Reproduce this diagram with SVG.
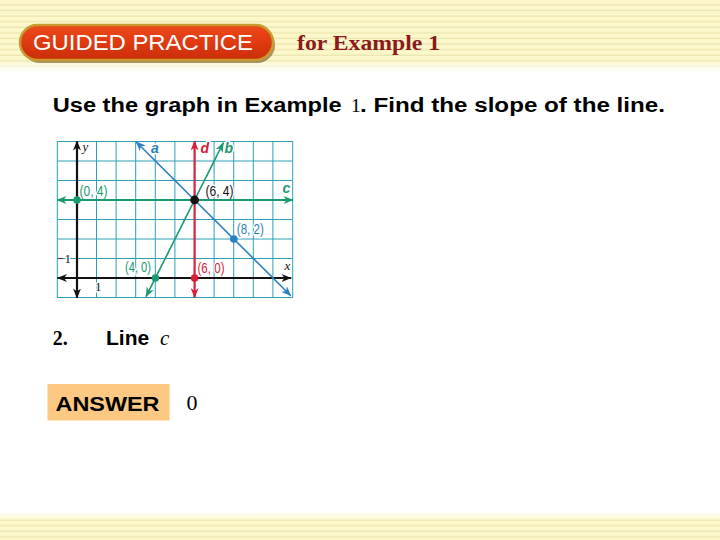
<svg xmlns="http://www.w3.org/2000/svg" width="720" height="540" viewBox="0 0 720 540">
  <defs>
    <pattern id="stripes" x="0" y="0" width="720" height="5.6" patternUnits="userSpaceOnUse">
      <rect width="720" height="5.6" fill="#fcf8cc"/>
      <rect y="4.2" width="720" height="1.4" fill="#ece6b0"/>
    </pattern>
    <linearGradient id="headFade" x1="0" y1="0" x2="0" y2="1">
      <stop offset="0" stop-color="#ffffff" stop-opacity="0"/>
      <stop offset="1" stop-color="#ffffff" stop-opacity="1"/>
    </linearGradient>
    <linearGradient id="footFade" x1="0" y1="0" x2="0" y2="1">
      <stop offset="0" stop-color="#ffffff" stop-opacity="1"/>
      <stop offset="1" stop-color="#ffffff" stop-opacity="0"/>
    </linearGradient>
    <linearGradient id="pillFill" x1="0" y1="0" x2="0" y2="1">
      <stop offset="0" stop-color="#ec4a1c"/>
      <stop offset="0.5" stop-color="#e03a10"/>
      <stop offset="1" stop-color="#c82e0a"/>
    </linearGradient>
    <marker id="arBlack" viewBox="0 0 10 8" refX="9.5" refY="4" markerWidth="10" markerHeight="8" markerUnits="userSpaceOnUse" orient="auto-start-reverse">
      <path d="M0,0 L10,4 L0,8 L3,4 z" fill="#111"/>
    </marker>
    <marker id="arGreen" viewBox="0 0 10 8" refX="9.5" refY="4" markerWidth="10" markerHeight="8" markerUnits="userSpaceOnUse" orient="auto-start-reverse">
      <path d="M0,0 L10,4 L0,8 L3,4 z" fill="#1a9a70"/>
    </marker>
    <marker id="arRed" viewBox="0 0 10 8" refX="9.5" refY="4" markerWidth="10" markerHeight="8" markerUnits="userSpaceOnUse" orient="auto-start-reverse">
      <path d="M0,0 L10,4 L0,8 L3,4 z" fill="#d62038"/>
    </marker>
    <marker id="arBlue" viewBox="0 0 10 8" refX="9.5" refY="4" markerWidth="10" markerHeight="8" markerUnits="userSpaceOnUse" orient="auto-start-reverse">
      <path d="M0,0 L10,4 L0,8 L3,4 z" fill="#2a80c0"/>
    </marker>
  </defs>
  <style>
    .grid { stroke: #2ba0b8; stroke-width: 1; fill: none; }
    .lbl { font-family: "Liberation Sans", Arial, sans-serif; font-size: 15px; stroke: #ffffff; stroke-width: 3px; paint-order: stroke; stroke-linejoin: round; }
    .ln { font-family: "Liberation Sans", Arial, sans-serif; font-size: 14px; font-weight: bold; font-style: italic; stroke: #ffffff; stroke-width: 3px; paint-order: stroke; stroke-linejoin: round; }
    .ser { font-family: "Liberation Serif", "Times New Roman", serif; }
    .sans { font-family: "Liberation Sans", Arial, sans-serif; }
    .halo { stroke: #ffffff; stroke-width: 3px; paint-order: stroke; stroke-linejoin: round; }
  </style>

  <rect width="720" height="540" fill="#ffffff"/>

  <!-- header band -->
  <g id="header">
    <rect x="0" y="0" width="720" height="72" fill="url(#stripes)"/>
    <rect x="0" y="60" width="720" height="12" fill="url(#headFade)"/>
  </g>

  <!-- footer band -->
  <g id="footer">
    <rect x="0" y="512" width="720" height="28" fill="url(#stripes)"/>
    <rect x="0" y="512" width="720" height="8" fill="url(#footFade)"/>
  </g>

  <!-- pill -->
  <g id="guided-practice">
    <rect x="22" y="27" width="253" height="36" rx="18" fill="#6a5220" opacity="0.6"/>
    <rect x="20" y="25" width="253" height="35" rx="17.5" fill="url(#pillFill)" stroke="#c99a2e" stroke-width="2.5"/>
    <text x="33" y="50" class="sans" font-size="22.5" fill="#ffffff" textLength="220" lengthAdjust="spacingAndGlyphs">GUIDED PRACTICE</text>
  </g>

  <g id="subtitle">
    <text x="297" y="50" class="ser" font-size="22" font-weight="bold" fill="#8b1a1a" textLength="143" lengthAdjust="spacingAndGlyphs">for Example 1</text>
  </g>

  <g id="question">
    <text y="112" class="sans" font-size="19.5" font-weight="bold" fill="#000"><tspan x="52.7" textLength="289" lengthAdjust="spacingAndGlyphs">Use the graph in Example</tspan><tspan x="351" class="ser" font-weight="normal">1</tspan><tspan x="360" textLength="305" lengthAdjust="spacingAndGlyphs">. Find the slope of the line.</tspan></text>
  </g>

  <!-- graph -->
  <g id="graph">
    <g id="grid">
      <path class="grid" d="M76.9,141.5V297.5 M96.5,141.5V297.5 M116.1,141.5V297.5 M135.7,141.5V297.5 M155.3,141.5V297.5 M174.9,141.5V297.5 M194.5,141.5V297.5 M214.1,141.5V297.5 M233.7,141.5V297.5 M253.3,141.5V297.5 M272.9,141.5V297.5"/>
      <path class="grid" d="M57.3,161H292.7 M57.3,180.5H292.7 M57.3,200H292.7 M57.3,219.5H292.7 M57.3,239H292.7 M57.3,258.5H292.7 M57.3,278H292.7"/>
      <rect class="grid" x="57.3" y="141.5" width="235.4" height="156" stroke-width="1.6"/>
    </g>
    <g id="labels">
      <text x="79.5" y="196" class="lbl" fill="#1a9a70" textLength="28" lengthAdjust="spacingAndGlyphs">(0, 4)</text>
      <text x="205.5" y="196" class="lbl" fill="#111" textLength="28" lengthAdjust="spacingAndGlyphs">(6, 4)</text>
      <text x="236.8" y="233.5" class="lbl" fill="#2a80c0" textLength="27" lengthAdjust="spacingAndGlyphs">(8, 2)</text>
      <text x="125" y="272" class="lbl" fill="#1a9a70" textLength="26" lengthAdjust="spacingAndGlyphs">(4, 0)</text>
      <text x="197.5" y="273" class="lbl" fill="#d62038" textLength="27" lengthAdjust="spacingAndGlyphs">(6, 0)</text>
      <text x="151" y="152.5" class="ln" fill="#2a80c0">a</text>
      <text x="200.5" y="152.5" class="ln" fill="#d62038">d</text>
      <text x="224.5" y="152.5" class="ln" fill="#1a9a70">b</text>
      <text x="282.5" y="193" class="ln" fill="#1a9a70">c</text>
      <text x="82.5" y="151" class="ser halo" font-size="13" font-style="italic" fill="#111">y</text>
      <text x="284.5" y="269.5" class="ser halo" font-size="13" font-style="italic" fill="#111">x</text>
      <text x="64.5" y="262.5" class="ser halo" font-size="13" fill="#111">1</text>
      <text x="95" y="291" class="ser halo" font-size="13" fill="#111">1</text>
    </g>
    <g id="connectors">
      <line x1="57.5" y1="278" x2="291" y2="278" stroke="#111" stroke-width="2.2" marker-start="url(#arBlack)" marker-end="url(#arBlack)"/>
      <line x1="77" y1="298" x2="77" y2="141" stroke="#111" stroke-width="2.2" marker-start="url(#arBlack)" marker-end="url(#arBlack)"/>
      <line x1="57" y1="200" x2="293" y2="200" stroke="#1a9a70" stroke-width="2.2" marker-start="url(#arGreen)" marker-end="url(#arGreen)"/>
      <line x1="194.6" y1="297.5" x2="194.6" y2="141" stroke="#d62038" stroke-width="2.2" marker-start="url(#arRed)" marker-end="url(#arRed)"/>
      <line x1="146" y1="296.7" x2="223.4" y2="142.7" stroke="#1a9a70" stroke-width="1.6" marker-start="url(#arGreen)" marker-end="url(#arGreen)"/>
      <line x1="136" y1="141.7" x2="290.8" y2="295.7" stroke="#2a80c0" stroke-width="1.6" marker-start="url(#arBlue)" marker-end="url(#arBlue)"/>
      <line x1="58" y1="258.5" x2="63" y2="258.5" stroke="#444" stroke-width="1.2"/>
    </g>
    <g id="points">
      <circle cx="77" cy="200" r="3.8" fill="#1a9a70"/>
      <circle cx="194.6" cy="200" r="4.4" fill="#111"/>
      <circle cx="233.8" cy="239" r="3.8" fill="#2a80c0"/>
      <circle cx="155.4" cy="278" r="3.8" fill="#1a9a70"/>
      <circle cx="194.6" cy="278" r="3.8" fill="#d62038"/>
    </g>
  </g>

  <g id="item2">
    <text x="52.7" y="345" class="ser" font-size="20" font-weight="bold" fill="#000">2.</text>
    <text x="106" y="345" class="sans" font-size="21" font-weight="bold" fill="#000">Line</text>
    <text x="160" y="345" class="ser" font-size="21" font-style="italic" fill="#000">c</text>
  </g>

  <g id="answer">
    <rect x="47.5" y="384" width="122" height="36.5" fill="#fcc882"/>
    <text x="55.5" y="410.5" class="sans" font-size="21" font-weight="bold" fill="#000" textLength="104" lengthAdjust="spacingAndGlyphs">ANSWER</text>
    <text x="186.5" y="409.5" class="ser" font-size="22" fill="#000">0</text>
  </g>
</svg>
